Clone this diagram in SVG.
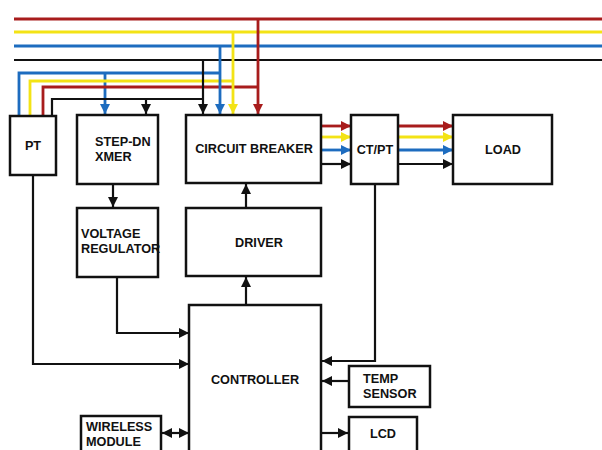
<svg xmlns="http://www.w3.org/2000/svg" width="602" height="450" viewBox="0 0 602 450">
<style>
.box{fill:#fff;stroke:#111;stroke-width:2.5}
.t{font-family:"Liberation Sans",Arial,sans-serif;font-weight:bold;font-size:12.7px;fill:#111}
.c{text-anchor:middle}
.k{fill:none;stroke:#111;stroke-width:2.2}
.r{fill:none;stroke:#a81c1c;stroke-width:2.8}
.y{fill:none;stroke:#f3e316;stroke-width:2.8}
.b{fill:none;stroke:#1d6cbf;stroke-width:2.8}
</style>
<defs>
<marker id="ak" viewBox="0 0 10 10" refX="10" refY="5" markerWidth="10" markerHeight="10" markerUnits="userSpaceOnUse" orient="auto-start-reverse"><path d="M0,0 L10,5 L0,10 z" fill="#111"/></marker>
<marker id="ar" viewBox="0 0 10 10" refX="10" refY="5" markerWidth="10" markerHeight="10" markerUnits="userSpaceOnUse" orient="auto"><path d="M0,0 L10,5 L0,10 z" fill="#a81c1c"/></marker>
<marker id="ay" viewBox="0 0 10 10" refX="10" refY="5" markerWidth="10" markerHeight="10" markerUnits="userSpaceOnUse" orient="auto"><path d="M0,0 L10,5 L0,10 z" fill="#f3e316"/></marker>
<marker id="ab" viewBox="0 0 10 10" refX="10" refY="5" markerWidth="10" markerHeight="10" markerUnits="userSpaceOnUse" orient="auto"><path d="M0,0 L10,5 L0,10 z" fill="#1d6cbf"/></marker>
</defs>
<rect width="602" height="450" fill="#fff"/>
<g id="connectors">
<path class="r" d="M14,19 H602"/>
<path class="y" d="M14,32 H602"/>
<path class="b" d="M14,46 H602"/>
<path class="k" d="M14,60 H602" stroke-width="2.8"/>
<path class="b" d="M220,73 H19 V116"/>
<path class="b" d="M105,73 V114" marker-end="url(#ab)"/>
<path class="y" d="M233,81 H30 V116"/>
<path class="r" d="M258,87 H43 V116"/>
<path class="k" d="M203,99 H52 V116"/>
<path class="k" d="M146,99 V114" marker-end="url(#ak)"/>
<path class="k" d="M203,60 V114" marker-end="url(#ak)"/>
<path class="b" d="M220,46 V114" marker-end="url(#ab)"/>
<path class="y" d="M233,32 V114" marker-end="url(#ay)"/>
<path class="r" d="M258,19 V114" marker-end="url(#ar)"/>
<path class="r" d="M321,126 H351" marker-end="url(#ar)"/>
<path class="y" d="M321,137 H351" marker-end="url(#ay)"/>
<path class="b" d="M321,150 H351" marker-end="url(#ab)"/>
<path class="k" d="M321,164 H351" marker-end="url(#ak)"/>
<path class="r" d="M398,126 H453" marker-end="url(#ar)"/>
<path class="y" d="M398,137 H453" marker-end="url(#ay)"/>
<path class="b" d="M398,150 H453" marker-end="url(#ab)"/>
<path class="k" d="M398,164 H453" marker-end="url(#ak)"/>
<path class="k" d="M113,184 V207" marker-end="url(#ak)"/>
<path class="k" d="M246,208 V184" marker-end="url(#ak)"/>
<path class="k" d="M246,305 V277" marker-end="url(#ak)"/>
<path class="k" d="M117,277 V333 H189" marker-end="url(#ak)"/>
<path class="k" d="M33,175 V364 H189" marker-end="url(#ak)"/>
<path class="k" d="M375,184 V361 H322" marker-end="url(#ak)"/>
<path class="k" d="M349,381 H322" marker-end="url(#ak)"/>
<path class="k" d="M321,433 H348" marker-end="url(#ak)"/>
<path class="k" d="M162,433 H189" marker-start="url(#ak)" marker-end="url(#ak)"/>
</g>
<g id="pt"><rect class="box" x="10" y="116" width="46" height="59"/><text class="t c" x="33" y="150">PT</text></g>
<g id="stepdn"><rect class="box" x="77" y="115" width="81" height="69"/><text class="t" x="95" y="146">STEP-DN</text><text class="t" x="95" y="161">XMER</text></g>
<g id="vreg"><rect class="box" x="77" y="208" width="81" height="69"/><text class="t" x="81" y="238">VOLTAGE</text><text class="t" x="81" y="253">REGULATOR</text></g>
<g id="cb"><rect class="box" x="186" y="115" width="135" height="68"/><text class="t c" x="254" y="153">CIRCUIT BREAKER</text></g>
<g id="driver"><rect class="box" x="186" y="208" width="135" height="68"/><text class="t c" x="259" y="247">DRIVER</text></g>
<g id="ctpt"><rect class="box" x="351" y="115" width="47" height="69"/><text class="t c" x="375" y="154">CT/PT</text></g>
<g id="load"><rect class="box" x="453" y="115" width="99" height="69"/><text class="t c" x="503" y="154">LOAD</text></g>
<g id="controller"><rect class="box" x="189" y="305" width="132" height="160"/><text class="t c" x="255" y="384">CONTROLLER</text></g>
<g id="temp"><rect class="box" x="349" y="366" width="81" height="41"/><text class="t" x="363" y="383">TEMP</text><text class="t" x="363" y="398">SENSOR</text></g>
<g id="lcd"><rect class="box" x="349" y="417" width="68" height="45"/><text class="t c" x="383" y="438">LCD</text></g>
<g id="wireless"><rect class="box" x="81" y="416" width="80" height="45"/><text class="t" x="86" y="431">WIRELESS</text><text class="t" x="86" y="446">MODULE</text></g>
</svg>
